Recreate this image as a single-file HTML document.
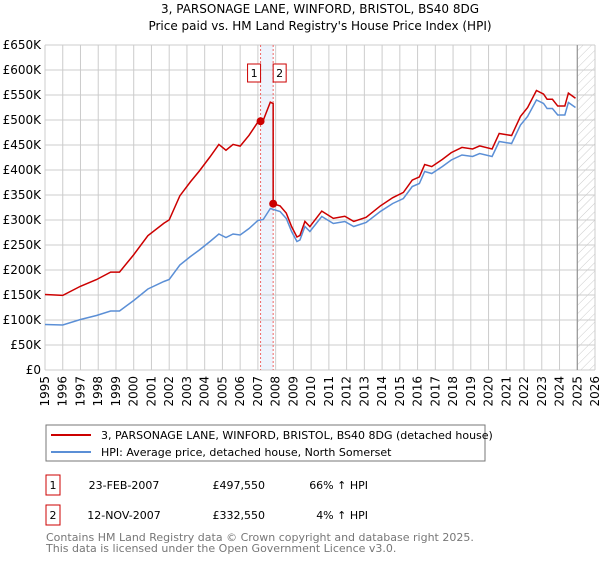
<!DOCTYPE html>
<html><head><meta charset="utf-8"><style>
body{margin:0;background:#fff;font-family:"Liberation Sans","DejaVu Sans",sans-serif}
</style></head><body>
<svg width="600" height="560" xmlns="http://www.w3.org/2000/svg" font-family="DejaVu Sans, Liberation Sans, sans-serif">
<text x="320" y="13" text-anchor="middle" font-size="12">3, PARSONAGE LANE, WINFORD, BRISTOL, BS40 8DG</text>
<text x="320" y="30" text-anchor="middle" font-size="12">Price paid vs. HM Land Registry's House Price Index (HPI)</text>
<defs><pattern id="hatch" width="6" height="6" patternUnits="userSpaceOnUse" patternTransform="rotate(45)"><line x1="0" y1="0" x2="0" y2="6" stroke="#ccc" stroke-width="1"/></pattern></defs>
<g id="grid"></g>
<g id="marks"></g>
<g id="legend">
<rect x="46" y="425" width="439" height="36" fill="#fff" stroke="#777"/>
<line x1="51" y1="435" x2="91" y2="435" stroke="#cc0000" stroke-width="2"/>
<text x="101" y="439" font-size="11">3, PARSONAGE LANE, WINFORD, BRISTOL, BS40 8DG (detached house)</text>
<line x1="51" y1="452" x2="91" y2="452" stroke="#5b8fd6" stroke-width="2"/>
<text x="101" y="456" font-size="11">HPI: Average price, detached house, North Somerset</text>
</g>
<g font-size="11">
<rect x="46" y="475" width="14" height="20" fill="#fff" stroke="#cc0000"/>
<text x="53" y="489" text-anchor="middle">1</text>
<text x="124" y="489" text-anchor="middle">23-FEB-2007</text>
<text x="265" y="489" text-anchor="end">£497,550</text>
<text x="368" y="489" text-anchor="end">66% ↑ HPI</text>
<rect x="46" y="505" width="14" height="20" fill="#fff" stroke="#cc0000"/>
<text x="53" y="519" text-anchor="middle">2</text>
<text x="124" y="519" text-anchor="middle">12-NOV-2007</text>
<text x="265" y="519" text-anchor="end">£332,550</text>
<text x="368" y="519" text-anchor="end">4% ↑ HPI</text>
</g>
<text x="46" y="541" font-size="11" fill="#777">Contains HM Land Registry data © Crown copyright and database right 2025.</text>
<text x="46" y="552" font-size="11" fill="#777">This data is licensed under the Open Government Licence v3.0.</text>
</svg>
<script>
const hpiYears=[1995,1996,1997,1997.9,1998.7,1999.2,2000,2000.8,2001.7,2002,2002.6,2003.2,2003.7,2004.3,2004.8,2005.2,2005.6,2006,2006.5,2007,2007.3,2007.7,2008.25,2008.6,2008.9,2009.2,2009.37,2009.65,2009.93,2010.6,2011.25,2011.9,2012.4,2013.1,2013.9,2014.6,2015.2,2015.7,2016.1,2016.4,2016.8,2017.4,2017.9,2018.5,2019.1,2019.5,2020.2,2020.6,2021.3,2021.8,2022.2,2022.7,2023.1,2023.3,2023.6,2023.9,2024.3,2024.5,2024.9];
const hpiValues=[91,90,101,109,118,118,139,162,177,181,210,227,240,257,272,265,272,270,283,299,301,323,317,303,277,257,260,287,277,307,293,297,287,295,317,333,343,367,373,397,393,407,420,430,427,433,427,457,453,490,507,540,533,523,523,510,510,535,525];
const saleYears=[2007.15,2007.86];
const salePrices=[497.55,332.55];
const yTicks=[0,50,100,150,200,250,300,350,400,450,500,550,600,650];
const yTickLabels=["£0","£50K","£100K","£150K","£200K","£250K","£300K","£350K","£400K","£450K","£500K","£550K","£600K","£650K"];
const xTicks=[1995,1996,1997,1998,1999,2000,2001,2002,2003,2004,2005,2006,2007,2008,2009,2010,2011,2012,2013,2014,2015,2016,2017,2018,2019,2020,2021,2022,2023,2024,2025,2026];
const dataEnd=2025.0;
const L=45,R=595,T=45,B=370;
const X=y=>L+(y-1995)/(2026-1995)*(R-L);
const Y=v=>B-v/650*(B-T);
const NS="http://www.w3.org/2000/svg";
function mk(tag,attrs,parent){const e=document.createElementNS(NS,tag);for(const k in attrs)e.setAttribute(k,attrs[k]);parent.appendChild(e);return e;}
const grid=document.getElementById('grid'),marks=document.getElementById('marks');
function hpiAt(t){for(let i=1;i<hpiYears.length;i++){if(t<=hpiYears[i]){const f=(t-hpiYears[i-1])/(hpiYears[i]-hpiYears[i-1]);return hpiValues[i-1]+f*(hpiValues[i]-hpiValues[i-1]);}}return hpiValues[hpiValues.length-1];}
// shaded sale span
const sp=mk('rect',{x:X(saleYears[0]),y:T,width:X(saleYears[1])-X(saleYears[0]),height:B-T,fill:'#eef3fc'},grid);


const hz=mk('rect',{x:X(dataEnd),y:T,width:R-X(dataEnd),height:B-T,fill:'url(#hatch)'},grid);


yTicks.forEach((v,i)=>{
 const l=mk('line',{x1:L,x2:R,y1:Y(v),y2:Y(v),stroke:'#ccc','stroke-width':1},grid);
 
 
 const t=mk('text',{x:L-4,y:Y(v)+4,'text-anchor':'end','font-size':12},grid);
 
 
 t.textContent=yTickLabels[i];
});
xTicks.forEach(yr=>{
 const l=mk('line',{x1:X(yr),x2:X(yr),y1:T,y2:B,stroke:'#ccc','stroke-width':1},grid);
 
 
 const t=mk('text',{x:0,y:0,'text-anchor':'end','font-size':12,transform:`translate(${X(yr)+4},${B+6}) rotate(-90)`},grid);
 
 
 t.textContent=yr;
});
const el=mk('line',{x1:X(dataEnd),x2:X(dataEnd),y1:T,y2:B,stroke:'#888','stroke-width':1},grid);


saleYears.forEach((s,i)=>{
 const l=mk('line',{x1:X(s),x2:X(s),y1:T,y2:B,stroke:'#e66','stroke-width':1,'stroke-dasharray':'2,2'},grid);
 
 
});
// HPI line
const hp=mk('polyline',{points:hpiYears.map((y,i)=>X(y)+','+Y(hpiValues[i])).join(' '),fill:'none',stroke:'#5b8fd6','stroke-width':1.5},marks);


// property line indexed to HPI from sales
const r1=salePrices[0]/hpiAt(saleYears[0]),r2=salePrices[1]/hpiAt(saleYears[1]);
let pts=[];
hpiYears.forEach((y,i)=>{ if(y<saleYears[1]) pts.push([y,hpiValues[i]*r1]); });
pts.push([saleYears[1],hpiAt(saleYears[1])*r1]);
pts.push([saleYears[1],salePrices[1]]);
hpiYears.forEach((y,i)=>{ if(y>saleYears[1]) pts.push([y,hpiValues[i]*r2]); });
pts.sort((a,b)=>a[0]-b[0]);
const pl=mk('polyline',{points:pts.map(p=>X(p[0])+','+Y(p[1])).join(' '),fill:'none',stroke:'#cc0000','stroke-width':1.5},marks);


saleYears.forEach((s,i)=>{
 const c=mk('circle',{cx:X(s),cy:Y(salePrices[i]),r:4,fill:'#cc0000'},marks);
 
 
 const bx=X(s)+(i===0?-13:0);
 const b=mk('rect',{x:bx,y:64,width:13,height:18,fill:'#fff',stroke:'#cc0000'},marks);
 
 
 const t=mk('text',{x:bx+6.5,y:77,'text-anchor':'middle','font-size':11},marks);
 
 
 t.textContent=String(i+1);
});
</script>
</body></html>
